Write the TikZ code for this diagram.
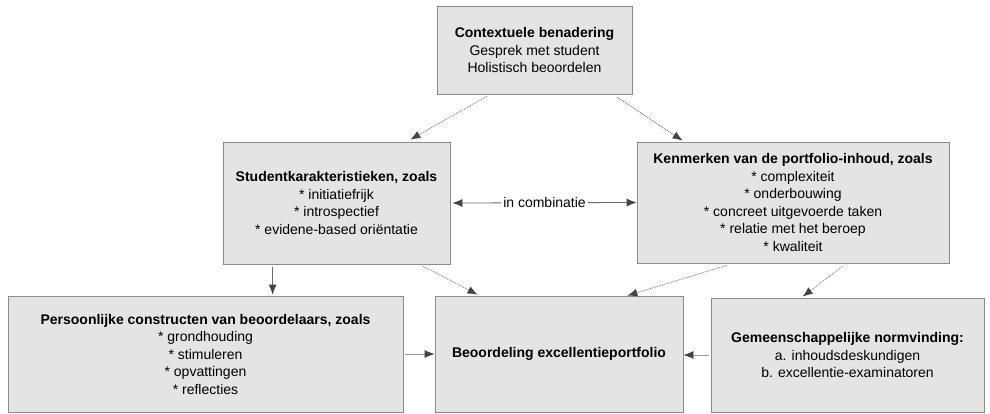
\documentclass[tikz,border=0pt]{standalone}
\usepackage{fontspec}
\setmainfont{Liberation Sans}
\usetikzlibrary{calc,arrows.meta,positioning}
\definecolor{boxfill}{HTML}{E4E4E4}
\definecolor{boxline}{HTML}{8C8C8C}
\definecolor{arrowgray}{HTML}{6A6A6A}
\definecolor{tipgray}{HTML}{444444}
\tikzset{
    block/.style={
    rectangle,draw=boxline,fill=boxfill,align=center,inner sep=0pt,line width=0.8pt,
    font=\fontsize{14}{17.5}\selectfont
    },
    tip/.style={
    Latex[length=10pt,width=8pt,color=tipgray]
    },
    flow/.style={
    draw=arrowgray,line width=0.8pt,-{Latex[length=10pt,width=8pt,color=tipgray]}
    },
    dflow/.style={
    flow,densely dotted
    },
}
\begin{document}
\begin{tikzpicture}[x=1pt,y=-1pt]
   \useasboundingbox (0,0) rectangle (990,413);

   \node[block,minimum width=195pt,minimum height=88pt] (ctx) at (534.5,50)
     {\textbf{Contextuele benadering}\\Gesprek met student\\Holistisch beoordelen};
   \node[block,minimum width=227pt,minimum height=122pt] (stud) at (336.5,203)
     {\textbf{Studentkarakteristieken, zoals}\\* initiatiefrijk\\* introspectief\\* evidene-based oriëntatie};
   \node[block,minimum width=312pt,minimum height=121pt] (kenm) at (793,202.5)
     {\textbf{Kenmerken van de portfolio-inhoud, zoals}\\* complexiteit\\* onderbouwing\\* concreet uitgevoerde taken\\* relatie met het beroep\\* kwaliteit};
   \node[block,minimum width=395pt,minimum height=116pt] (pers) at (205.5,354)
     {\textbf{Persoonlijke constructen van beoordelaars, zoals}\\* grondhouding\\* stimuleren\\* opvattingen\\* reflecties};
   \node[block,minimum width=248pt,minimum height=116pt] (beoor) at (559,354)
     {\textbf{Beoordeling excellentieportfolio}};
   \node[block,minimum width=273pt,minimum height=114pt] (gemeen) at (847.5,355)
     {\textbf{Gemeenschappelijke normvinding:}\\a. inhoudsdeskundigen\\b. excellentie-examinatoren};

   %from context
   \draw[dflow] ($(ctx.south west)+(50,2)$) -- ($(stud.north east)+(-40,-2)$);
   \draw[dflow] ($(ctx.south east)+(-15,3)$) -- ($(kenm.north west)+(46,-1)$);

   %combination
   \draw[flow,{Latex[length=10pt,width=8pt,color=tipgray]}-{Latex[length=10pt,width=8pt,color=tipgray]}]
     ($(stud.east)+(2,0)$) -- (kenm.west)
     node[midway,fill=white,inner sep=2pt,font=\fontsize{14}{16}\selectfont] (comb) {in combinatie};

   %towards the bottom row
   \draw[flow] ($(stud.south west)+(50,3)$) -- ($(pers.north west)+(265,-1)$);
   \draw[dflow] ($(stud.south east)+(-27,2)$) -- ($(beoor.north west)+(43,-1)$);
   \draw[dflow] ($(kenm.south west)+(90,2)$) -- ($(beoor.north east)+(-56,0)$);
   \draw[dflow] ($(kenm.south west)+(206,3)$) -- ($(gemeen.north west)+(92,-1)$);

   %into the judgement
   \draw[flow,draw=arrowgray!70] ($(pers.east)+(2,0)$) -- (beoor.west);
   \draw[flow,draw=arrowgray!70] ($(gemeen.west)+(-2,0)$) -- (beoor.east |- gemeen.west);
\end{tikzpicture}
\end{document}
